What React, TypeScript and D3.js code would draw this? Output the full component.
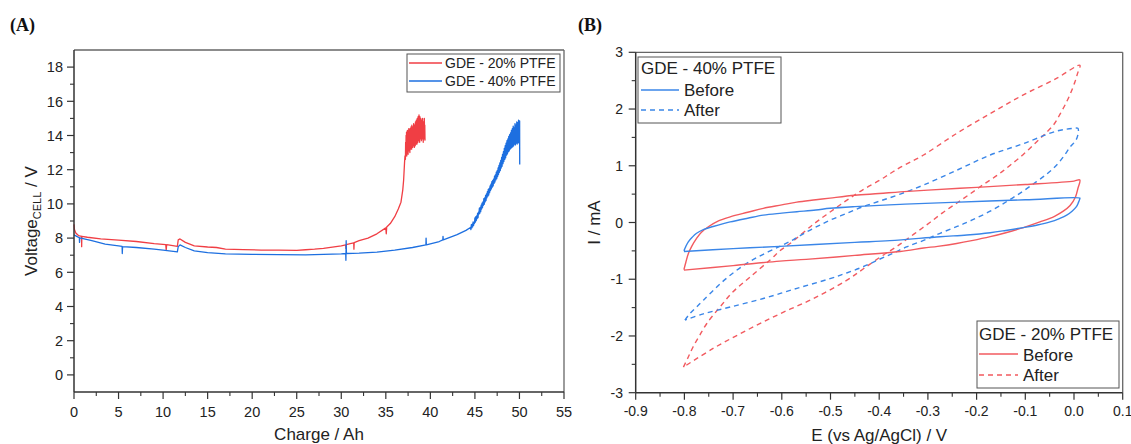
import React from "react";
import * as d3 from "d3";

// ---------- Panel A data: cell voltage vs charge ----------
const red20Smooth: [number, number][] = [
  [0, 8.8], [0.05, 8.5], [0.2, 8.3], [0.5, 8.15], [0.85, 8.1], [0.86, 7.5], [0.88, 8.1],
  [1.5, 8.05], [3, 7.95], [5, 7.88], [7, 7.8], [9, 7.68], [10.3, 7.62], [10.35, 7.3],
  [10.4, 7.62], [11.6, 7.52], [11.7, 7.9], [11.9, 7.95], [12.5, 7.75], [13.5, 7.55],
  [15, 7.48], [16, 7.45], [17, 7.36], [19, 7.33], [21, 7.3], [23, 7.3], [25, 7.28],
  [26, 7.32], [27, 7.35], [28, 7.4], [29, 7.47], [30, 7.55], [30.5, 7.6], [30.52, 7.4],
  [30.55, 7.62], [31, 7.68], [31.4, 7.72], [31.42, 7.35], [31.45, 7.74], [32, 7.85],
  [33, 8.0], [34, 8.25], [35, 8.6], [35.05, 8.25], [35.1, 8.65], [35.5, 8.85], [36, 9.25],
  [36.4, 9.7], [36.7, 10.1], [36.9, 10.8], [37.0, 11.4], [37.1, 12.4], [37.15, 12.8],
];
const red20NoiseStart = 37.2;
const red20NoiseStep = 0.025;
const red20NoiseV = [
  12.6, 13.6, 12.9, 14.0, 13.0, 14.2, 12.8, 13.8, 13.1, 14.3, 13.0, 13.9, 12.9, 14.1, 13.2,
  14.4, 13.1, 13.8, 13.3, 14.2, 13.0, 14.4, 13.3, 14.0, 13.2, 14.5, 13.4, 14.1, 13.2, 14.6,
  13.4, 14.2, 13.3, 14.5, 13.5, 14.3, 13.4, 14.7, 13.5, 14.4, 13.3, 14.6, 13.6, 14.5, 13.4,
  14.8, 13.6, 14.4, 13.5, 14.9, 13.7, 14.6, 13.5, 15.0, 13.8, 14.7, 13.6, 15.1, 13.8, 14.8,
  13.7, 15.2, 13.9, 14.9, 13.6, 15.1, 13.9, 14.7, 13.8, 15.0, 14.0, 14.6, 13.7, 14.9, 13.9,
  14.5, 13.8, 15.0, 14.0, 14.6, 13.6, 14.8, 13.9, 14.4, 13.8, 15.0, 13.9, 14.6, 13.7,
];

const blue40Smooth: [number, number][] = [
  [0, 8.2], [0.3, 8.1], [0.6, 8.02], [0.62, 7.75], [0.65, 8.02], [2, 7.85], [3.5, 7.65],
  [5, 7.55], [5.4, 7.52], [5.42, 7.1], [5.45, 7.5], [7, 7.45], [9, 7.35], [10, 7.3],
  [11.6, 7.2], [11.7, 7.5], [11.9, 7.6], [12.5, 7.45], [13.5, 7.25], [15, 7.15], [17, 7.08],
  [20, 7.05], [23, 7.03], [26, 7.02], [28, 7.05], [30, 7.08], [30.5, 7.1], [30.52, 6.7],
  [30.55, 7.85], [30.58, 7.1], [32, 7.12], [34, 7.18], [36, 7.3], [38, 7.45], [39.5, 7.6],
  [39.52, 8.0], [39.55, 7.6], [41, 7.8], [41.4, 7.9], [41.42, 8.1], [41.45, 7.9], [43, 8.2],
  [44, 8.45],
];
const blue40NoiseStart = 44.5;
const blue40NoiseStep = 0.05;
const blue40NoiseV = [
  8.62, 8.5, 8.78, 8.6, 8.82, 8.66, 8.95, 8.74, 8.92, 8.86, 9.18, 8.93, 9.25, 9.02, 9.3,
  9.14, 9.45, 9.2, 9.52, 9.4, 9.75, 9.45, 9.8, 9.55, 9.92, 9.7, 10.05, 9.78, 10.12, 9.92,
  10.3, 9.98, 10.35, 10.12, 10.5, 10.2, 10.58, 10.36, 10.72, 10.45, 10.85, 10.52, 10.9,
  10.66, 11.05, 10.78, 11.15, 10.88, 11.3, 10.98, 11.38, 11.05, 11.45, 11.2, 11.62, 11.28,
  11.7, 11.4, 11.85, 11.48, 11.95, 11.6, 12.1, 11.72, 12.25, 11.85, 12.4, 11.95, 12.55,
  12.1, 12.72, 12.2, 12.9, 12.35, 13.05, 12.48, 13.25, 12.6, 13.4, 12.7, 13.55, 12.85,
  13.7, 12.92, 13.8, 13.05, 13.95, 13.1, 14.05, 13.2, 14.15, 13.25, 14.3, 13.3, 14.4,
  13.35, 14.55, 13.4, 14.45, 13.5, 14.7, 13.45, 14.6, 13.55, 14.8, 13.5, 14.75, 13.6,
  14.9, 13.55, 14.7,
];
const blue40Tail: [number, number][] = [[50.02, 14.85], [50.03, 12.3]];

const xTicksA = [0, 5, 10, 15, 20, 25, 30, 35, 40, 45, 50, 55];
const yTicksA = [0, 2, 4, 6, 8, 10, 12, 14, 16, 18];
const legendA = ["GDE - 20% PTFE", "GDE - 40% PTFE"];

// ---------- Panel B data: cyclic voltammetry ----------
const red20Before: [number, number][] = [
  [-0.801, -0.83], [-0.797, -0.7], [-0.792, -0.55], [-0.785, -0.42], [-0.775, -0.28],
  [-0.765, -0.17], [-0.75, -0.07], [-0.73, 0.03], [-0.706, 0.1], [-0.67, 0.18],
  [-0.638, 0.25], [-0.6, 0.31], [-0.569, 0.36], [-0.53, 0.4], [-0.501, 0.43], [-0.45, 0.48],
  [-0.4, 0.51], [-0.357, 0.54], [-0.3, 0.57], [-0.2, 0.62], [-0.1, 0.67], [0.0, 0.73],
  [0.012, 0.75],
  [0.008, 0.6], [0.003, 0.45], [-0.008, 0.3], [-0.022, 0.2], [-0.04, 0.11], [-0.07, 0.01],
  [-0.104, -0.09], [-0.14, -0.18], [-0.172, -0.25], [-0.21, -0.32], [-0.241, -0.37],
  [-0.28, -0.42], [-0.309, -0.45], [-0.357, -0.51], [-0.45, -0.58], [-0.55, -0.65],
  [-0.604, -0.68], [-0.7, -0.76], [-0.801, -0.84],
];
const blue40Before: [number, number][] = [
  [-0.801, -0.5], [-0.797, -0.42], [-0.792, -0.34], [-0.784, -0.26], [-0.775, -0.19],
  [-0.76, -0.12], [-0.741, -0.07], [-0.72, -0.02], [-0.706, 0.01], [-0.67, 0.075],
  [-0.638, 0.13], [-0.6, 0.165], [-0.569, 0.19], [-0.53, 0.22], [-0.501, 0.25],
  [-0.45, 0.28], [-0.357, 0.32], [-0.25, 0.355], [-0.1, 0.4], [0.012, 0.43],
  [0.012, 0.42], [0.009, 0.35], [0.005, 0.28], [-0.004, 0.2], [-0.015, 0.13], [-0.03, 0.07],
  [-0.049, 0.01], [-0.075, -0.045], [-0.104, -0.09], [-0.14, -0.14], [-0.172, -0.18],
  [-0.22, -0.22], [-0.275, -0.25], [-0.378, -0.32], [-0.45, -0.35], [-0.604, -0.42],
  [-0.7, -0.46], [-0.801, -0.51],
];
const blue40After: [number, number][] = [
  [-0.799, -1.72], [-0.789, -1.61], [-0.775, -1.49], [-0.761, -1.37], [-0.734, -1.14],
  [-0.706, -0.93], [-0.672, -0.72], [-0.638, -0.56], [-0.604, -0.42], [-0.576, -0.3],
  [-0.55, -0.17], [-0.525, -0.06], [-0.501, 0.04], [-0.467, 0.16], [-0.433, 0.28],
  [-0.398, 0.38], [-0.357, 0.5], [-0.309, 0.66], [-0.241, 0.92], [-0.172, 1.19],
  [-0.104, 1.39], [-0.036, 1.61], [0.0, 1.66], [0.008, 1.66],
  [0.009, 1.6], [0.004, 1.45], [-0.008, 1.33], [-0.02, 1.18], [-0.036, 1.01], [-0.055, 0.86],
  [-0.077, 0.72], [-0.105, 0.55], [-0.138, 0.37], [-0.172, 0.2], [-0.21, 0.04],
  [-0.24, -0.07], [-0.275, -0.19], [-0.31, -0.32], [-0.344, -0.43], [-0.371, -0.54],
  [-0.4, -0.65], [-0.433, -0.78], [-0.467, -0.89], [-0.501, -0.99], [-0.569, -1.16],
  [-0.638, -1.34], [-0.706, -1.49], [-0.761, -1.61], [-0.799, -1.72],
];
const red20After: [number, number][] = [
  [-0.802, -2.55], [-0.792, -2.37], [-0.782, -2.19], [-0.768, -1.98], [-0.754, -1.78],
  [-0.727, -1.49], [-0.7, -1.22], [-0.665, -0.96], [-0.624, -0.66], [-0.604, -0.5],
  [-0.583, -0.37], [-0.535, -0.03], [-0.5, 0.19], [-0.467, 0.39], [-0.433, 0.58],
  [-0.398, 0.75], [-0.378, 0.86], [-0.357, 0.97], [-0.309, 1.19], [-0.241, 1.57],
  [-0.172, 1.92], [-0.104, 2.25], [-0.036, 2.54], [0.012, 2.77],
  [0.007, 2.62], [0.002, 2.48], [-0.006, 2.3], [-0.015, 2.13], [-0.028, 1.92],
  [-0.042, 1.72], [-0.06, 1.56], [-0.077, 1.42], [-0.104, 1.2], [-0.131, 1.01],
  [-0.158, 0.83], [-0.186, 0.67], [-0.214, 0.5], [-0.241, 0.34], [-0.27, 0.17],
  [-0.296, 0.0], [-0.32, -0.15], [-0.344, -0.3], [-0.36, -0.4], [-0.378, -0.5],
  [-0.398, -0.61], [-0.433, -0.82], [-0.467, -1.02], [-0.535, -1.34], [-0.604, -1.61],
  [-0.672, -1.9], [-0.741, -2.22], [-0.802, -2.55],
];

const xTicksB = [-0.9, -0.8, -0.7, -0.6, -0.5, -0.4, -0.3, -0.2, -0.1, 0.0, 0.1];
const yTicksB = [-3, -2, -1, 0, 1, 2, 3];
const legendB1 = ["GDE - 40% PTFE", "Before", "After"];
const legendB2 = ["GDE - 20% PTFE", "Before", "After"];

// ---------- styles ----------
const FONT = "Arial, 'Liberation Sans', sans-serif";
const SERIF = "'Times New Roman', 'Liberation Serif', serif";
const RED_A = "#f03e44";
const BLUE_A = "#1d6fe0";
const RED_B = "#f25a5f";
const BLUE_B = "#3a86e8";
const AXIS = "#333";
const FRAME = "#666";

function noise(start: number, step: number, vals: number[]): [number, number][] {
  return vals.map((v, i) => [start + i * step, v] as [number, number]);
}

const red20Series: [number, number][] = [
  ...red20Smooth,
  ...noise(red20NoiseStart, red20NoiseStep, red20NoiseV),
];
const blue40Series: [number, number][] = [
  ...blue40Smooth,
  ...noise(blue40NoiseStart, blue40NoiseStep, blue40NoiseV),
  ...blue40Tail,
];

export default function App() {
  const W = 1131;
  const H = 444;

  const xA = d3.scaleLinear().domain([0, 55]).range([74, 564]);
  const yA = d3.scaleLinear().domain([-1, 19]).range([392, 50]);
  const xB = d3.scaleLinear().domain([-0.9, 0.1]).range([635.7, 1122.7]);
  const yB = d3.scaleLinear().domain([-3, 3]).range([392.7, 52.3]);

  const lineA = d3
    .line<[number, number]>()
    .x((d) => xA(d[0]))
    .y((d) => yA(d[1]));
  const lineB = d3
    .line<[number, number]>()
    .x((d) => xB(d[0]))
    .y((d) => yB(d[1]))
    .curve(d3.curveCatmullRom.alpha(0.5));

  const [ax0, ax1] = xA.range();
  const [ay0, ay1] = yA.range(); // bottom, top
  const [bx0, bx1] = xB.range();
  const [by0, by1] = yB.range();

  const minorA_x = xTicksA.slice(0, -1).map((t, i) => (t + xTicksA[i + 1]) / 2);
  const minorA_y = yTicksA.slice(0, -1).map((t, i) => (t + yTicksA[i + 1]) / 2);
  const minorB_x = xTicksB.slice(0, -1).map((t, i) => (t + xTicksB[i + 1]) / 2);
  const minorB_y = yTicksB.slice(0, -1).map((t, i) => (t + yTicksB[i + 1]) / 2);

  return (
    <svg
      width={W}
      height={H}
      style={{ position: "absolute", left: 0, top: 0, display: "block", background: "#fff" }}
      fontFamily={FONT}
    >
      {/* Panel labels */}
      <text x={10} y={31} fontFamily={SERIF} fontWeight="bold" fontSize={18} fill="#111">
        (A)
      </text>
      <text x={578} y={31} fontFamily={SERIF} fontWeight="bold" fontSize={18} fill="#111">
        (B)
      </text>

      {/* ===== Panel A ===== */}
      <g>
        <path d={lineA(red20Series) || ""} fill="none" stroke={RED_A} strokeWidth={1.3} strokeLinejoin="round" />
        <path d={lineA(blue40Series) || ""} fill="none" stroke={BLUE_A} strokeWidth={1.3} strokeLinejoin="round" />

        {/* frame */}
        <line x1={ax0} x2={ax1} y1={ay1} y2={ay1} stroke={FRAME} strokeWidth={1.3} />
        <line x1={ax1} x2={ax1} y1={ay1} y2={ay0} stroke={FRAME} strokeWidth={1.3} />
        <line x1={ax0} x2={ax0} y1={ay1} y2={ay0} stroke={AXIS} strokeWidth={1.5} />
        <line x1={ax0} x2={ax1} y1={ay0} y2={ay0} stroke={AXIS} strokeWidth={1.5} />

        {/* x ticks */}
        {xTicksA.map((t) => (
          <g key={"xa" + t}>
            <line x1={xA(t)} x2={xA(t)} y1={ay0} y2={ay0 + 7} stroke={AXIS} strokeWidth={1.2} />
            <text x={xA(t)} y={416.5} fontSize={14.5} textAnchor="middle" fill="#222">
              {t}
            </text>
          </g>
        ))}
        {minorA_x.map((t) => (
          <line key={"xam" + t} x1={xA(t)} x2={xA(t)} y1={ay0} y2={ay0 + 4} stroke={AXIS} strokeWidth={1.1} />
        ))}
        {/* y ticks */}
        {yTicksA.map((t) => (
          <g key={"ya" + t}>
            <line x1={ax0 - 7} x2={ax0} y1={yA(t)} y2={yA(t)} stroke={AXIS} strokeWidth={1.2} />
            <text x={63} y={yA(t)} dy="0.36em" fontSize={14.5} textAnchor="end" fill="#222">
              {t}
            </text>
          </g>
        ))}
        {minorA_y.map((t) => (
          <line key={"yam" + t} x1={ax0 - 4} x2={ax0} y1={yA(t)} y2={yA(t)} stroke={AXIS} strokeWidth={1.1} />
        ))}

        {/* axis titles */}
        <text x={(ax0 + ax1) / 2} y={440} fontSize={17} textAnchor="middle" fill="#222">
          Charge / Ah
        </text>
        <text transform={`translate(37,${(ay0 + ay1) / 2}) rotate(-90)`} fontSize={17} textAnchor="middle" fill="#222">
          Voltage
          <tspan fontSize={11} dy={4}>CELL</tspan>
          <tspan dy={-4}> / V</tspan>
        </text>

        {/* legend */}
        <rect x={407} y={54} width={153} height={38} fill="#fff" stroke="#555" strokeWidth={1} />
        <line x1={409} x2={442} y1={63} y2={63} stroke={RED_A} strokeWidth={1.3} />
        <text x={445} y={68} fontSize={14} fill="#222">{legendA[0]}</text>
        <line x1={409} x2={442} y1={81} y2={81} stroke={BLUE_A} strokeWidth={1.3} />
        <text x={445} y={86} fontSize={14} fill="#222">{legendA[1]}</text>
      </g>

      {/* ===== Panel B ===== */}
      <g>
        <path d={lineB(red20After) || ""} fill="none" stroke={RED_B} strokeWidth={1.4} strokeDasharray="5,4" />
        <path d={lineB(blue40After) || ""} fill="none" stroke={BLUE_B} strokeWidth={1.4} strokeDasharray="5,4" />
        <path d={lineB(red20Before) || ""} fill="none" stroke={RED_B} strokeWidth={1.4} />
        <path d={lineB(blue40Before) || ""} fill="none" stroke={BLUE_B} strokeWidth={1.4} />

        {/* frame */}
        <line x1={bx0} x2={bx1} y1={by1} y2={by1} stroke={FRAME} strokeWidth={1.3} />
        <line x1={bx1} x2={bx1} y1={by1} y2={by0} stroke={FRAME} strokeWidth={1.3} />
        <line x1={bx0} x2={bx0} y1={by1} y2={by0} stroke={AXIS} strokeWidth={1.5} />
        <line x1={bx0} x2={bx1} y1={by0} y2={by0} stroke={AXIS} strokeWidth={1.5} />

        {xTicksB.map((t) => (
          <g key={"xb" + t}>
            <line x1={xB(t)} x2={xB(t)} y1={by0} y2={by0 + 7} stroke={AXIS} strokeWidth={1.2} />
            <text x={xB(t)} y={416} fontSize={14} textAnchor="middle" fill="#222">
              {t.toFixed(1)}
            </text>
          </g>
        ))}
        {minorB_x.map((t) => (
          <line key={"xbm" + t} x1={xB(t)} x2={xB(t)} y1={by0} y2={by0 + 4} stroke={AXIS} strokeWidth={1.1} />
        ))}
        {yTicksB.map((t) => (
          <g key={"yb" + t}>
            <line x1={bx0 - 7} x2={bx0} y1={yB(t)} y2={yB(t)} stroke={AXIS} strokeWidth={1.2} />
            <text x={623} y={yB(t)} dy="0.36em" fontSize={14} textAnchor="end" fill="#222">
              {t}
            </text>
          </g>
        ))}
        {minorB_y.map((t) => (
          <line key={"ybm" + t} x1={bx0 - 4} x2={bx0} y1={yB(t)} y2={yB(t)} stroke={AXIS} strokeWidth={1.1} />
        ))}

        <text x={(bx0 + bx1) / 2} y={441} fontSize={17} textAnchor="middle" fill="#222">
          E (vs Ag/AgCl) / V
        </text>
        <text transform={`translate(600,${(by0 + by1) / 2}) rotate(-90)`} fontSize={17} textAnchor="middle" fill="#222">
          I / mA
        </text>

        {/* legend 1 */}
        <rect x={638} y={57} width={143} height={66} fill="#fff" stroke="#555" strokeWidth={1} />
        <text x={641} y={74} fontSize={17} fill="#222">{legendB1[0]}</text>
        <line x1={641} x2={679} y1={90} y2={90} stroke={BLUE_B} strokeWidth={1.4} />
        <text x={684} y={96} fontSize={17} fill="#222">{legendB1[1]}</text>
        <line x1={641} x2={679} y1={110} y2={110} stroke={BLUE_B} strokeWidth={1.4} strokeDasharray="5,4" />
        <text x={684} y={116} fontSize={17} fill="#222">{legendB1[2]}</text>

        {/* legend 2 */}
        <rect x={977} y={321} width={142} height={67} fill="#fff" stroke="#555" strokeWidth={1} />
        <text x={979} y={339.5} fontSize={17} fill="#222">{legendB2[0]}</text>
        <line x1={979} x2={1018} y1={354} y2={354} stroke={RED_B} strokeWidth={1.4} />
        <text x={1023} y={360.5} fontSize={17} fill="#222">{legendB2[1]}</text>
        <line x1={979} x2={1018} y1={375} y2={375} stroke={RED_B} strokeWidth={1.4} strokeDasharray="5,4" />
        <text x={1023} y={381} fontSize={17} fill="#222">{legendB2[2]}</text>
      </g>
    </svg>
  );
}
